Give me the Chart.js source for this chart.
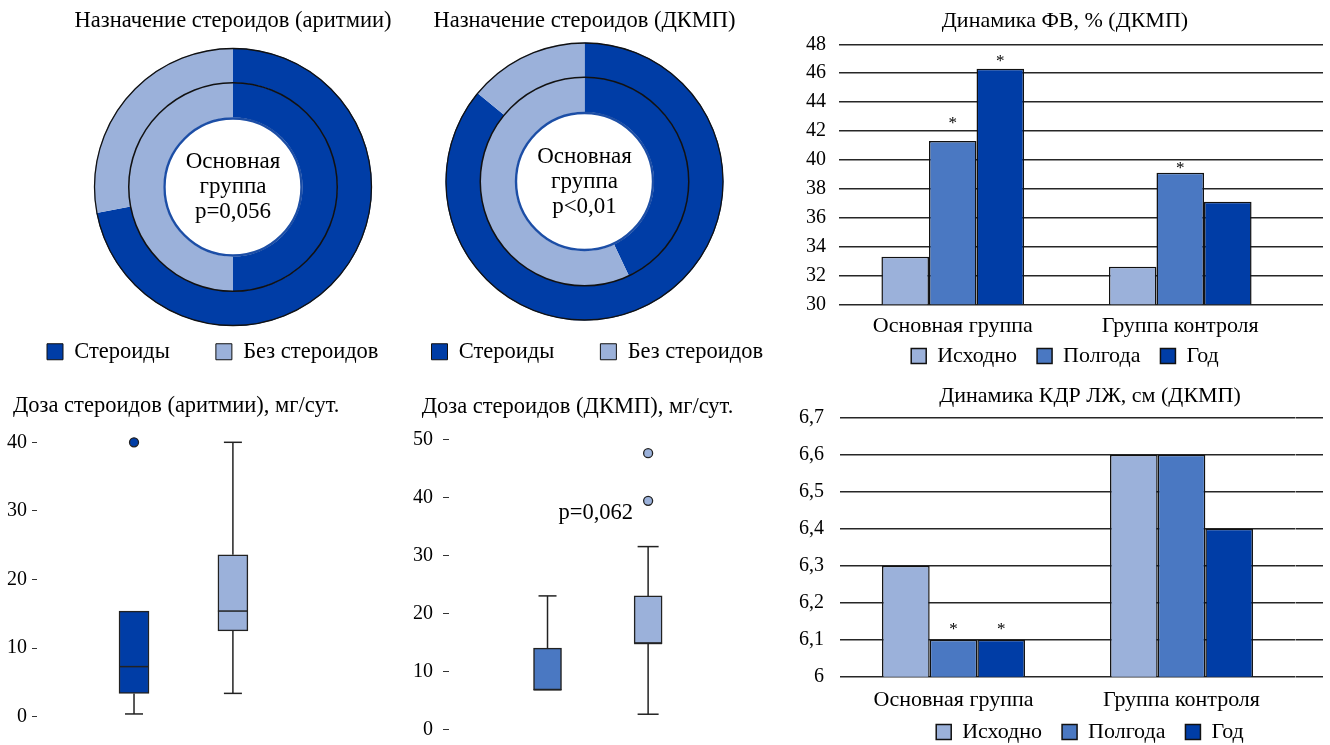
<!DOCTYPE html>
<html lang="ru">
<head>
<meta charset="utf-8">
<title>Стероиды: назначение, доза и динамика ФВ и КДР</title>
<script src="https://cdn.jsdelivr.net/npm/chart.js@4.4.1/dist/chart.umd.min.js"></script>
<style>
  html, body { margin: 0; padding: 0; background: #fff; overflow: hidden; }
  body { position: relative; width: 1330px; height: 745px; }
  canvas { position: absolute; }
</style>
</head>
<body>
<canvas id="ringArr" style="left:1px;top:0" width="464" height="373"></canvas>
<canvas id="ringDcm" style="left:360px;top:0" width="449" height="373"></canvas>
<canvas id="efBars" style="left:800px;top:0" width="530" height="377"></canvas>
<canvas id="doseArr" style="left:0;top:380px" width="400" height="365"></canvas>
<canvas id="doseDcm" style="left:400px;top:380px" width="380" height="365"></canvas>
<canvas id="lvBars" style="left:790px;top:380px" width="600" height="373"></canvas>
<script>
// ---- data ----
const ringLabels = ['Стероиды', 'Без стероидов'];
const arrOuter = [72, 28];          // % of patients, outer ring
const arrInner = [50, 50];          // % of patients, inner ring
const dcmOuter = [86, 14];
const dcmInner = [43, 57];
const arrCenter = ['Основная', 'группа', 'p=0,056'];
const dcmCenter = ['Основная', 'группа', 'p<0,01'];

const groups = ['Основная группа', 'Группа контроля'];
const periods = ['Исходно', 'Полгода', 'Год'];

const efStart = [33.3, 32.6];       // ФВ, %
const efHalf = [41.3, 39.1];
const efYear = [46.3, 37.1];
const efTicks = [30, 32, 34, 36, 38, 40, 42, 44, 46, 48];
const efStars = [[false, false], [true, true], [true, false]];

const lvStart = [6.3, 6.6];         // КДР ЛЖ, см
const lvHalf = [6.1, 6.6];
const lvYear = [6.1, 6.4];
const lvTicks = [6, 6.1, 6.2, 6.3, 6.4, 6.5, 6.6, 6.7];
const lvStars = [[false, false], [true, false], [true, false]];

// steroid dose, mg/day: one box per group
const doseSlots = [1, 2];
const arrMin = [0.4, 3.4];
const arrQ1 = [3.4, 12.5];
const arrMed = [7.3, 15.4];
const arrQ3 = [15.4, 23.6];
const arrMax = [15.4, 40];
const arrOut = [[40], []];
const arrTicks = [0, 10, 20, 30, 40];

const dcmMin = [6.8, 2.6];
const dcmQ1 = [6.8, 14.8];
const dcmMed = [6.8, 14.8];
const dcmQ3 = [14, 23];
const dcmMax = [23, 31.5];
const dcmOut = [[], [39.4, 47.6]];
const dcmTicks = [0, 10, 20, 30, 40, 50];

// ---- styling ----
const DARK = '#003da6', MID = '#4a78c2', LIGHT = '#9bb1da';
const INK = '#111', GRID = '#262626';
const SERIF = "'Liberation Serif', 'Times New Roman', serif";

Chart.defaults.font.family = SERIF;
Chart.defaults.font.size = 20;
Chart.defaults.color = '#000';

const fixedTicks = list => axis => { axis.ticks = list.map(v => ({ value: v })); };
const commaLabel = v => String(Math.round(v * 10) / 10).replace('.', ',');

// rings: outlines around the rings and the caption in the hole
const ringDecor = {
  id: 'ringDecor',
  afterDatasetsDraw(chart, args, o) {
    const outer = chart.getDatasetMeta(0).data[0];
    const inner = chart.getDatasetMeta(1).data[0];
    const { x: cx, y: cy } = outer;
    const ctx = chart.ctx;
    ctx.save();
    const circle = (r, color, w) => {
      ctx.beginPath(); ctx.arc(cx, cy, r, 0, Math.PI * 2);
      ctx.strokeStyle = color; ctx.lineWidth = w; ctx.stroke();
    };
    circle(outer.outerRadius - 0.5, INK, 1.3);
    circle(outer.innerRadius, INK, 1.5);
    circle(inner.innerRadius - 1, o.holeColor, 2.4);
    ctx.fillStyle = '#000';
    ctx.font = o.size + 'px ' + SERIF;
    ctx.textAlign = 'center';
    ctx.textBaseline = 'middle';
    const n = o.lines.length;
    o.lines.forEach((t, i) => ctx.fillText(t, cx, cy + (i - (n - 1) / 2) * o.gap));
    ctx.restore();
  }
};

// significance asterisks above bars
const starMarks = {
  id: 'starMarks',
  afterDatasetsDraw(chart, args, o) {
    const ctx = chart.ctx;
    ctx.save();
    ctx.font = o.size + 'px ' + SERIF;
    ctx.textAlign = 'center';
    ctx.textBaseline = 'alphabetic';
    ctx.fillStyle = '#000';
    o.marks.forEach((row, di) => {
      const meta = chart.getDatasetMeta(di);
      row.forEach((on, i) => {
        if (!on) return;
        const bar = meta.data[i];
        ctx.fillText('*', bar.x, bar.y - o.lift[di][i]);
      });
    });
    ctx.restore();
  }
};

// whiskers and medians for the dose boxes
const boxWhiskers = {
  id: 'boxWhiskers',
  afterDatasetsDraw(chart, args, o) {
    const xs = chart.scales.x, ys = chart.scales.y, ctx = chart.ctx;
    const boxes = chart.getDatasetMeta(0).data;
    ctx.save();
    ctx.strokeStyle = o.color;
    ctx.lineWidth = o.width;
    const seg = (x1, y1, x2, y2) => { ctx.beginPath(); ctx.moveTo(x1, y1); ctx.lineTo(x2, y2); ctx.stroke(); };
    o.pos.forEach((p, i) => {
      const px = xs.getPixelForValue(p);
      const half = boxes[i].width / 2;
      const cap = o.cap[i] / 2;
      const yMin = ys.getPixelForValue(o.min[i]), yQ1 = ys.getPixelForValue(o.q1[i]);
      const yQ3 = ys.getPixelForValue(o.q3[i]), yMax = ys.getPixelForValue(o.max[i]);
      const yMed = ys.getPixelForValue(o.med[i]);
      if (o.max[i] > o.q3[i]) { seg(px, yQ3, px, yMax); seg(px - cap, yMax, px + cap, yMax); }
      if (o.min[i] < o.q1[i]) { seg(px, yQ1, px, yMin); seg(px - cap, yMin, px + cap, yMin); }
      seg(px - half, yMed, px + half, yMed);
    });
    if (o.note) {
      ctx.fillStyle = '#000';
      ctx.font = o.note.size + 'px ' + SERIF;
      ctx.textAlign = 'center';
      ctx.textBaseline = 'middle';
      ctx.fillText(o.note.text, xs.getPixelForValue(o.note.x), ys.getPixelForValue(o.note.y));
    }
    ctx.restore();
  }
};

const quiet = { responsive: false, animation: false, devicePixelRatio: 1, events: [] };

// ---- doughnuts ----
function ringChart(id, title, outer, inner, center, titleGap, align) {
  return new Chart(document.getElementById(id), {
    type: 'doughnut',
    data: {
      labels: ringLabels,
      datasets: [
        { data: outer, backgroundColor: [DARK, LIGHT], borderWidth: 0 },
        { data: inner, backgroundColor: [DARK, LIGHT], borderWidth: 0 }
      ]
    },
    options: {
      ...quiet,
      radius: 139,
      cutout: '50%',
      plugins: {
        tooltip: { enabled: false },
        title: { display: true, text: title, font: { size: 22.5, weight: 'normal' }, padding: { top: 8, bottom: titleGap } },
        legend: {
          position: 'bottom', align,
          labels: {
            boxWidth: 16, boxHeight: 16, padding: 46, font: { size: 22.5 },
            generateLabels: c => Chart.overrides.doughnut.plugins.legend.labels.generateLabels(c)
              .map(l => ({ ...l, strokeStyle: INK, lineWidth: 1 }))
          }
        },
        ringDecor: { lines: center, size: 23, gap: 25, holeColor: '#1c4ea6' }
      }
    },
    plugins: [ringDecor]
  });
}
ringChart('ringArr', 'Назначение стероидов (аритмии)', arrOuter, arrInner, arrCenter, 44.5, 'start');
ringChart('ringDcm', 'Назначение стероидов (ДКМП)', dcmOuter, dcmInner, dcmCenter, 33.5, 'end');

// ---- grouped bars ----
function barChart(id, cfg) {
  const gridAxis = {
    afterBuildTicks: fixedTicks(cfg.ticks),
    min: cfg.ticks[0], max: cfg.ticks[cfg.ticks.length - 1],
    border: { display: false }
  };
  return new Chart(document.getElementById(id), {
    type: 'bar',
    data: {
      labels: groups,
      datasets: cfg.series.map((s, i) => ({ label: periods[i], data: s, backgroundColor: [LIGHT, MID, DARK][i] }))
    },
    options: {
      ...quiet,
      datasets: { bar: { borderColor: INK, borderWidth: 1.5, borderSkipped: false, barPercentage: 1, categoryPercentage: 0.627 } },
      scales: {
        x: {
          grid: { display: false, drawTicks: false }, border: { display: false },
          // mirrored labels pushed back below the axis line, so they are not clipped to the thin axis box
          ticks: { mirror: true, padding: cfg.xPad, font: { size: 22 } },
          afterFit: a => { a.height = cfg.xHeight; }
        },
        y: {
          ...gridAxis,
          grid: { color: GRID, lineWidth: 1.5, drawTicks: false },
          ticks: { padding: cfg.yPad, callback: cfg.label },
          afterFit: a => { a.width = cfg.yWidth; }
        },
        yEdge: {
          ...gridAxis, position: 'right',
          grid: { drawOnChartArea: false, drawTicks: true, tickLength: cfg.edge, color: GRID, lineWidth: 1.5 },
          ticks: { display: false },
          afterFit: a => { a.width = cfg.rWidth; }
        }
      },
      plugins: {
        tooltip: { enabled: false },
        title: { display: true, text: cfg.title, font: { size: 22, weight: 'normal' }, padding: cfg.titlePad },
        legend: { position: 'bottom', labels: { boxWidth: 15, boxHeight: 15, padding: 20, font: { size: 22 } } },
        starMarks: { marks: cfg.stars, lift: cfg.lift, size: 17 }
      }
    },
    plugins: [starMarks]
  });
}

barChart('efBars', {
  title: 'Динамика ФВ, % (ДКМП)',
  series: [efStart, efHalf, efYear], ticks: efTicks, stars: efStars,
  lift: [[0, 0], [13, 0], [3, 0]],
  label: v => String(v),
  titlePad: { top: 8.3, bottom: 9.6 },
  xPad: -35.4, xHeight: 20.7, yPad: 13, yWidth: 39, rWidth: 36, edge: 29
});

barChart('lvBars', {
  title: 'Динамика КДР ЛЖ, см (ДКМП)',
  series: [lvStart, lvHalf, lvYear], ticks: lvTicks, stars: lvStars,
  lift: [[0, 0], [6, 0], [6, 0]],
  label: commaLabel,
  titlePad: { top: 3.3, bottom: 8 },
  xPad: -36.5, xHeight: 24.3, yPad: 15.5, yWidth: 49.5, rWidth: 94.5, edge: 27.5
});

// ---- dose box plots ----
function doseChart(id, cfg) {
  const points = cfg.out.flatMap((vals, i) => vals.map(v => ({ x: doseSlots[i], y: v, c: cfg.colors[i] })));
  return new Chart(document.getElementById(id), {
    type: 'bar',
    data: {
      datasets: [
        {
          data: doseSlots.map((p, i) => ({ x: p, y: [cfg.q1[i], cfg.q3[i]] })),
          backgroundColor: cfg.colors, borderColor: '#222', borderWidth: 1.5, borderSkipped: false,
          barThickness: cfg.width
        },
        {
          type: 'scatter', data: points, clip: false,
          pointRadius: 4.5, pointBorderWidth: 1.3, pointBorderColor: '#222',
          pointBackgroundColor: points.map(p => p.c)
        }
      ]
    },
    options: {
      ...quiet,
      layout: { padding: cfg.pad },
      scales: {
        x: { type: 'linear', display: false, min: cfg.xRange[0], max: cfg.xRange[1] },
        y: {
          min: cfg.ticks[0], max: cfg.ticks[cfg.ticks.length - 1],
          afterBuildTicks: fixedTicks(cfg.ticks),
          afterFit: a => { a.width = cfg.yWidth; },
          grid: { drawOnChartArea: false, drawTicks: true, tickLength: cfg.tick, color: '#333', lineWidth: 1 },
          border: { display: false },
          // right-aligned labels placed left of the tick marks, free to extend past the narrow axis box
          ticks: { mirror: true, crossAlign: 'far', padding: -(cfg.tick + cfg.gap + 20), font: { size: 20 } }
        }
      },
      plugins: {
        tooltip: { enabled: false },
        legend: { display: false },
        title: { display: true, align: 'start', text: cfg.title, font: { size: 22.5, weight: 'normal' }, padding: cfg.titlePad },
        boxWhiskers: {
          pos: doseSlots, min: cfg.min, q1: cfg.q1, med: cfg.med, q3: cfg.q3, max: cfg.max,
          cap: cfg.cap, color: '#222', width: 1.5, note: cfg.note
        }
      }
    },
    plugins: [boxWhiskers]
  });
}

doseChart('doseArr', {
  title: 'Доза стероидов (аритмии), мг/сут.',
  min: arrMin, q1: arrQ1, med: arrMed, q3: arrQ3, max: arrMax, out: arrOut, ticks: arrTicks,
  colors: [DARK, LIGHT], width: 30, cap: [18, 18],
  xRange: [0.32, 3.33], pad: { left: 13, right: 0, top: 0, bottom: 28.3 },
  yWidth: 24, tick: 5, gap: 5, titlePad: { top: 12.5, bottom: 22.8 }
});

doseChart('doseDcm', {
  title: 'Доза стероидов (ДКМП), мг/сут.',
  min: dcmMin, q1: dcmQ1, med: dcmMed, q3: dcmQ3, max: dcmMax, out: dcmOut, ticks: dcmTicks,
  colors: [MID, LIGHT], width: 28, cap: [18, 21],
  xRange: [0.344, 2.93], pad: { left: 21.7, right: 0, top: 0, bottom: 15.7 },
  yWidth: 27.3, tick: 6, gap: 10, titlePad: { top: 13.5, bottom: 18.8 },
  note: { text: 'p=0,062', x: 1.48, y: 37.2, size: 22.5 }
});
</script>
</body>
</html>
